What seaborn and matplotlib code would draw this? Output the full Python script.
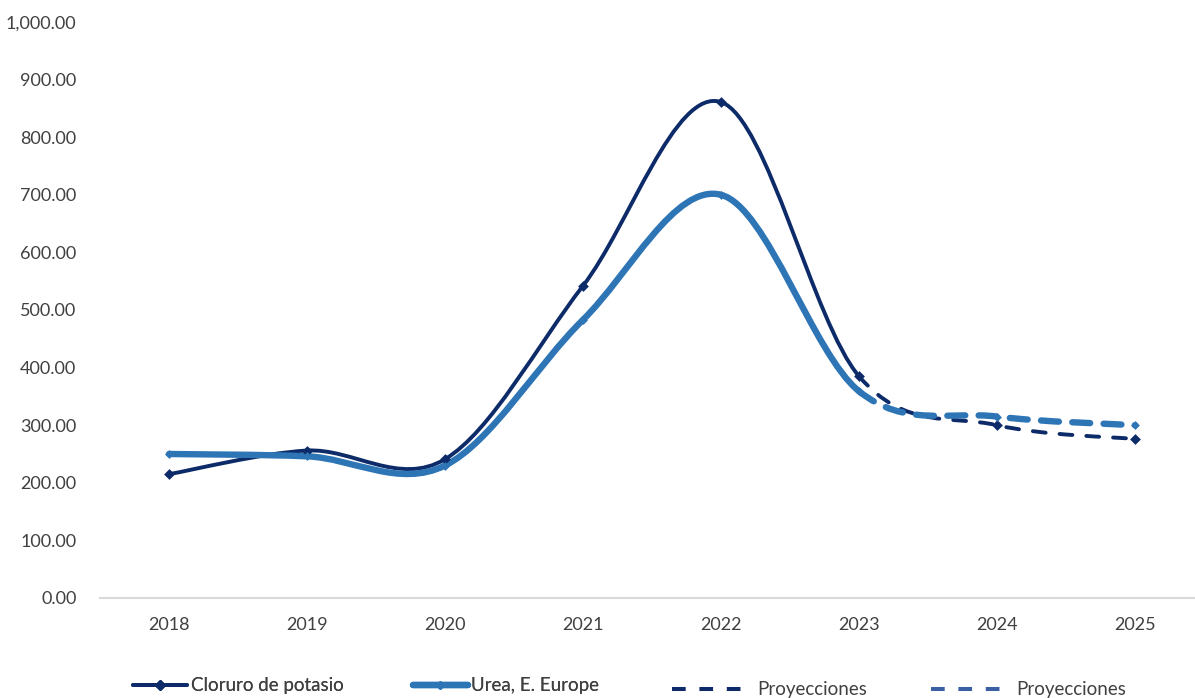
import numpy as np
import pandas as pd
import matplotlib
matplotlib.use("Agg")
import matplotlib.pyplot as plt
from matplotlib.path import Path
from matplotlib.patches import PathPatch
from matplotlib.lines import Line2D
from matplotlib.ticker import FuncFormatter, MultipleLocator
import seaborn as sns

# Price series (USD per tonne); 2024-2025 are projections
years = ["2018", "2019", "2020", "2021", "2022", "2023", "2024", "2025"]
cloruro = [215, 256, 241, 542, 861, 385, 300, 276]
urea = [250, 246, 230, 483, 700, 359, 315, 300]
proj_start = "2023"

NAVY = "#0D2B68"
BLUE = "#2E75B6"
BLUE_LEG = "#3A60A3"
TEXT = "#404040"

sns.set_theme(style="white")
plt.rcParams["font.family"] = ["Lato", "DejaVu Sans"]

fig = plt.figure(figsize=(11.95, 6.98), dpi=100)
ax = fig.add_axes([100 / 1195, 100 / 698, 1104 / 1195, 576 / 698])

xpos = np.arange(len(years))


def smooth_segments(x, y):
    """Cubic Bezier control points for a smoothed line through the points."""
    n = len(x)
    segs = []
    for i in range(n - 1):
        p0 = np.array([x[max(i - 1, 0)], y[max(i - 1, 0)]], float)
        p1 = np.array([x[i], y[i]], float)
        p2 = np.array([x[i + 1], y[i + 1]], float)
        p3 = np.array([x[min(i + 2, n - 1)], y[min(i + 2, n - 1)]], float)
        c1 = p1 + (p2 - p0) / 6.0
        c2 = p2 - (p3 - p1) / 6.0
        segs.append((p1, c1, c2, p2))
    return segs


def draw_curve(segs, **kw):
    verts, codes = [segs[0][0]], [Path.MOVETO]
    for _, c1, c2, p2 in segs:
        verts += [c1, c2, p2]
        codes += [Path.CURVE4] * 3
    ax.add_patch(PathPatch(Path(verts, codes), fill=False, **kw))


k = years.index(proj_start)
series = [
    (cloruro, NAVY, 2.8, (0, (3.3, 3.6)), 5.5),
    (urea, BLUE, 4.6, (0, (2.8, 2.1)), 4.5),
]
for vals, col, lw, dash, ms in series:
    segs = smooth_segments(xpos, vals)
    draw_curve(segs[:k], edgecolor=col, lw=lw, capstyle="round", joinstyle="round", zorder=3)
    draw_curve(segs[k:], edgecolor=col, lw=lw, linestyle=dash, capstyle="round", zorder=3)
    sns.scatterplot(x=xpos, y=vals, marker="D", s=ms ** 2, color=col,
                    edgecolor=col, linewidth=0, ax=ax, zorder=4, legend=False)

ax.set_xlim(-0.5, len(years) - 0.5)
ax.set_ylim(0, 1000)
ax.yaxis.set_major_locator(MultipleLocator(100))
ax.yaxis.set_major_formatter(FuncFormatter(lambda v, p: f"{v:,.2f}"))

# category labels centred, tick marks on category boundaries
ax.set_xticks(xpos)
ax.set_xticklabels(years)
ax.set_xticks(np.arange(-0.5, len(years) - 0.5, 1.0), minor=True)
ax.tick_params(axis="x", which="major", length=0, pad=14, labelsize=13, labelcolor=TEXT)
ax.tick_params(axis="x", which="minor", direction="in", length=6, width=1.2, color="#D9D9D9")
ax.tick_params(axis="y", length=0, pad=17, labelsize=13, labelcolor=TEXT)

for s in ["top", "right", "left"]:
    ax.spines[s].set_visible(False)
ax.spines["bottom"].set_color("#D9D9D9")
ax.spines["bottom"].set_linewidth(1.5)
ax.grid(False)

# legend: actual series
h_main = [
    Line2D([], [], color=NAVY, lw=2.8, marker="D", markersize=5),
    Line2D([], [], color=BLUE, lw=4.6, marker="D", markersize=4.5),
]
leg1 = fig.legend(h_main, ["Cloruro de potasio", "Urea, E. Europe"],
                  loc="center left", bbox_to_anchor=(133 / 1195, 12 / 698),
                  ncol=2, frameon=False, fontsize=13.5, labelcolor=TEXT,
                  handlelength=2.9, handletextpad=0.2, columnspacing=3.7,
                  borderaxespad=0, borderpad=0)
fig.add_artist(leg1)

# legend: projections
h_proj = [
    Line2D([], [], color=NAVY, lw=2.9, linestyle=(0, (3.4, 3.4)), dash_capstyle="butt"),
    Line2D([], [], color=BLUE_LEG, lw=2.9, linestyle=(0, (3.4, 3.4)), dash_capstyle="butt"),
]
fig.legend(h_proj, ["Proyecciones", "Proyecciones"],
           loc="center left", bbox_to_anchor=(672 / 1195, 8 / 698),
           ncol=2, frameon=False, fontsize=13.5, labelcolor=TEXT,
           handlelength=3.75, handletextpad=0.8, columnspacing=3.4,
           borderaxespad=0, borderpad=0)

fig.savefig("out.png", dpi=100)
